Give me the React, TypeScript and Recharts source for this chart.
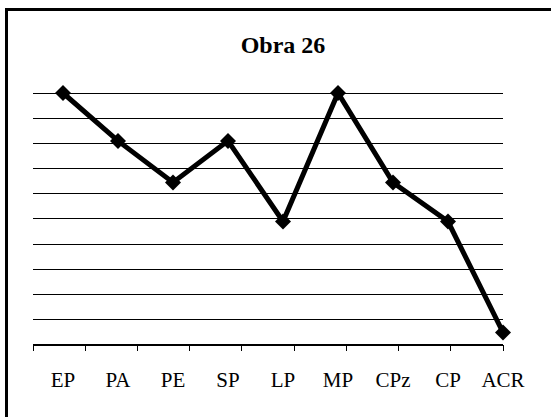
import { LineChart, Line, XAxis, YAxis, CartesianGrid } from 'recharts';

const categories = ['EP', 'PA', 'PE', 'SP', 'LP', 'MP', 'CPz', 'CP', 'ACR'];
const values = [10, 8.1, 6.45, 8.1, 4.9, 10, 6.45, 4.9, 0.5];
const yTicks = [0, 1, 2, 3, 4, 5, 6, 7, 8, 9, 10];
const boundaryTicks = [0, 1, 2, 3, 4, 5, 6, 7, 8, 9];

const data = categories.map((name, i) => ({ name, pos: i + 0.5, value: values[i] }));

const Diamond = (props: any) => {
  const { cx, cy } = props;
  if (cx == null || cy == null) return null;
  const r = 8;
  return (
    <polygon
      points={`${cx},${cy - r} ${cx + r},${cy} ${cx},${cy + r} ${cx - r},${cy}`}
      fill="#000"
    />
  );
};

export default function App() {
  return (
    <div
      style={{
        position: 'absolute',
        left: 0,
        top: 0,
        width: 551,
        height: 417,
        overflow: 'hidden',
        background: '#fff',
      }}
    >
      <div
        style={{
          position: 'absolute',
          left: 5,
          top: 8,
          width: 620,
          height: 500,
          borderLeft: '3px solid #000',
          borderTop: '3px solid #000',
        }}
      />
      <div
        style={{
          position: 'absolute',
          left: 0,
          top: 33,
          width: 566,
          textAlign: 'center',
          fontFamily: '"Liberation Serif", serif',
          fontWeight: 'bold',
          fontSize: 24,
          lineHeight: '24px',
          color: '#000',
        }}
      >
        Obra 26
      </div>
      <div style={{ position: 'absolute', left: 0, top: 0 }}>
        <LineChart
          width={551}
          height={417}
          data={data}
          margin={{ top: 93, right: 48, bottom: 66, left: 33 }}
        >
          <CartesianGrid
            xAxisId="cat"
            yAxisId="y"
            vertical={false}
            stroke="#000"
            strokeWidth={1}
            shapeRendering="crispEdges"
          />
          <XAxis
            xAxisId="t"
            dataKey="pos"
            type="number"
            domain={[0, 9]}
            ticks={boundaryTicks}
            allowDataOverflow
            tickFormatter={() => ''}
            tickSize={6}
            height={6}
            axisLine={{ stroke: '#000', strokeWidth: 1, shapeRendering: 'crispEdges' }}
            tickLine={{ stroke: '#000', strokeWidth: 1, shapeRendering: 'crispEdges' }}
          />
          <XAxis
            xAxisId="cat"
            dataKey="name"
            height={0.01}
            padding={{ left: 30, right: 0 }}
            axisLine={false}
            tickLine={false}
            tickSize={0}
            tickMargin={27}
            interval={0}
            tick={{
              fill: '#000',
              fontSize: 21,
              fontFamily: '"Liberation Serif", serif',
            }}
          />
          <YAxis yAxisId="y" hide domain={[0, 10]} ticks={yTicks} />
          <Line
            xAxisId="cat"
            yAxisId="y"
            type="linear"
            dataKey="value"
            stroke="#000"
            strokeWidth={5}
            dot={<Diamond />}
            activeDot={false}
            isAnimationActive={false}
          />
        </LineChart>
      </div>
    </div>
  );
}
